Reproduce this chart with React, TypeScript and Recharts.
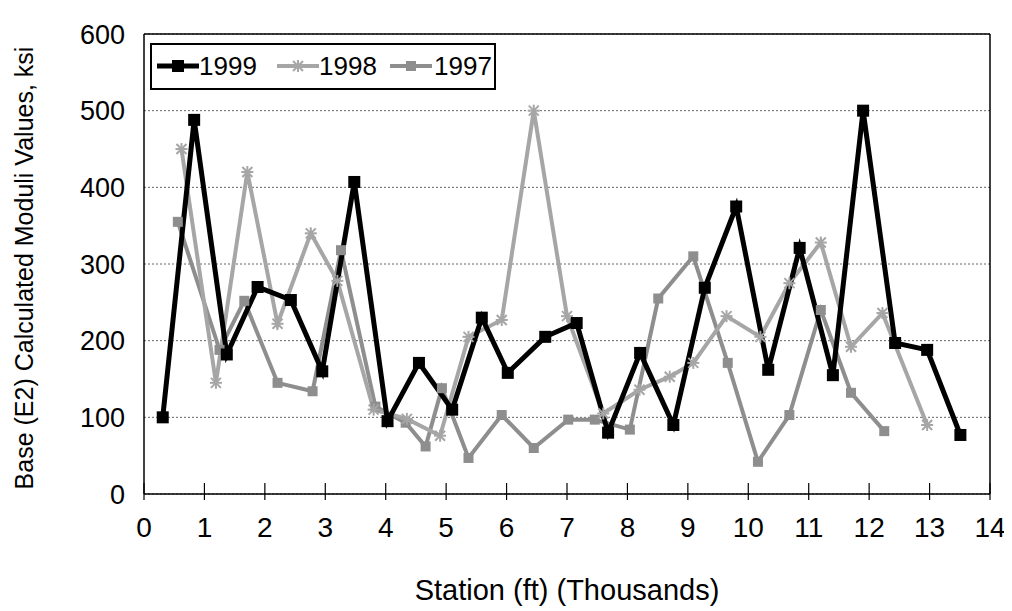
import React from 'react';
import { LineChart, Line, XAxis, YAxis, CartesianGrid, ReferenceLine } from 'recharts';

const xTicks = [0, 1, 2, 3, 4, 5, 6, 7, 8, 9, 10, 11, 12, 13, 14];
const yTicks = [0, 100, 200, 300, 400, 500, 600];

// station in thousands of ft, moduli in ksi
const station1999 = [0.31, 0.83, 1.37, 1.88, 2.43, 2.95, 3.48, 4.03, 4.55, 5.1, 5.59, 6.02, 6.64, 7.16, 7.68, 8.21, 8.76, 9.28, 9.8, 10.33, 10.85, 11.4, 11.9, 12.43, 12.96, 13.51];
const moduli1999 = [100, 488, 182, 270, 253, 160, 407, 95, 171, 110, 230, 158, 205, 223, 80, 184, 90, 269, 375, 162, 321, 155, 500, 197, 188, 77];

const station1998 = [0.62, 1.19, 1.71, 2.21, 2.76, 3.2, 3.8, 4.35, 4.9, 5.37, 5.92, 6.45, 7.0, 7.6, 8.2, 8.7, 9.09, 9.64, 10.2, 10.68, 11.2, 11.7, 12.22, 12.96];
const moduli1998 = [450, 145, 420, 222, 340, 278, 110, 98, 76, 205, 227, 500, 232, 105, 136, 153, 171, 232, 205, 275, 328, 192, 236, 90];

const station1997 = [0.56, 1.25, 1.66, 2.21, 2.79, 3.26, 3.83, 4.33, 4.66, 4.93, 5.37, 5.92, 6.45, 7.02, 7.46, 8.04, 8.51, 9.09, 9.66, 10.16, 10.68, 11.2, 11.7, 12.25];
const moduli1997 = [355, 188, 252, 145, 134, 318, 114, 93, 62, 138, 47, 103, 60, 97, 97, 84, 255, 310, 171, 42, 103, 240, 132, 82];

const toPoints = (xs: number[], ys: number[]) => xs.map((x, i) => ({ station: x, value: ys[i] }));

const data1999 = toPoints(station1999, moduli1999);
const data1998 = toPoints(station1998, moduli1998);
const data1997 = toPoints(station1997, moduli1997);

const FONT = '"Liberation Sans", Arial, sans-serif';

const BLACK = '#000000';
const GRAY98 = '#a6a6a6';
const GRAY97 = '#8e8e8e';

const SquareDot = ({ cx, cy, size, color }: any) => (
  <rect x={cx - size / 2} y={cy - size / 2} width={size} height={size} fill={color} />
);

const StarDot = ({ cx, cy, color }: any) => (
  <g stroke={color} strokeWidth={2}>
    <line x1={cx - 5} y1={cy - 5} x2={cx + 5} y2={cy + 5} />
    <line x1={cx - 5} y1={cy + 5} x2={cx + 5} y2={cy - 5} />
    <line x1={cx} y1={cy - 6} x2={cx} y2={cy + 6} />
    <line x1={cx - 6} y1={cy} x2={cx + 6} y2={cy} />
  </g>
);

const XTick = ({ x, y, payload }: any) => (
  <g>
    <line x1={x} x2={x} y1={y - 11} y2={y + 6} stroke={BLACK} strokeWidth={1.2} />
    <text x={x} y={y + 43} textAnchor="middle" fontSize={28} fontFamily={FONT} fill={BLACK}>
      {payload.value}
    </text>
  </g>
);

const XTitle = ({ viewBox }: any) => (
  <text
    x={viewBox.x + viewBox.width / 2}
    y={viewBox.y + viewBox.height + 46}
    textAnchor="middle"
    fontSize={29}
    fontFamily={FONT}
    fill={BLACK}
  >
    Station (ft) (Thousands)
  </text>
);

const YTitle = ({ viewBox }: any) => {
  const cx = 16;
  const cy = viewBox.y + viewBox.height / 2 + 4;
  return (
    <text
      x={cx}
      y={cy}
      transform={`rotate(-90, ${cx}, ${cy})`}
      textAnchor="middle"
      dominantBaseline="central"
      fontSize={25}
      fontFamily={FONT}
      fill={BLACK}
    >
      Base (E2) Calculated Moduli Values, ksi
    </text>
  );
};

const legendItems = [
  { label: '1999', color: BLACK, marker: 'square', width: 5, left: 5, textLeft: 47 },
  { label: '1998', color: GRAY98, marker: 'star', width: 4, left: 125, textLeft: 167 },
  { label: '1997', color: GRAY97, marker: 'square', width: 4, left: 238, textLeft: 282 },
];

const LegendBox = () => (
  <div
    style={{
      position: 'absolute',
      left: 142,
      top: 35,
      width: 342,
      height: 43,
      border: '2px solid #000',
      background: '#fff',
    }}
  >
    {legendItems.map((item) => (
      <React.Fragment key={item.label}>
        <svg width={42} height={20} style={{ position: 'absolute', left: item.left, top: 11 }}>
          <line x1={0} x2={42} y1={10} y2={10} stroke={item.color} strokeWidth={item.width} />
          {item.marker === 'square' ? (
            <SquareDot cx={21} cy={10} size={item.label === '1999' ? 12 : 10} color={item.color} />
          ) : (
            <StarDot cx={21} cy={10} color={item.color} />
          )}
        </svg>
        <span
          style={{
            position: 'absolute',
            left: item.textLeft,
            top: 4,
            fontFamily: FONT,
            fontSize: 26,
            lineHeight: '34px',
            color: '#000',
          }}
        >
          {item.label}
        </span>
      </React.Fragment>
    ))}
  </div>
);

export default function App() {
  return (
    <div style={{ position: 'relative', width: 1000, height: 600, background: '#fff' }}>
      <LineChart width={1000} height={600} margin={{ top: 26, right: 18, left: 56, bottom: 54 }}>
        <CartesianGrid horizontal vertical={false} stroke="#666" strokeDasharray="2 2" strokeWidth={1} />
        <XAxis
          type="number"
          dataKey="station"
          domain={[0, 14]}
          ticks={xTicks}
          interval={0}
          allowDataOverflow
          height={60}
          tickSize={0}
          tickMargin={0}
          tickLine={false}
          axisLine={{ stroke: BLACK, strokeWidth: 1.5 }}
          tick={<XTick />}
          label={<XTitle />}
        />
        <YAxis
          type="number"
          dataKey="value"
          domain={[0, 600]}
          ticks={yTicks}
          interval={0}
          width={80}
          tickSize={0}
          tickMargin={19}
          tickLine={false}
          axisLine={{ stroke: BLACK, strokeWidth: 1.5 }}
          tick={{ fill: BLACK, fontSize: 27, fontFamily: FONT }}
          label={<YTitle />}
        />
        <ReferenceLine y={600} stroke={BLACK} strokeWidth={1.5} />
        <ReferenceLine x={14} stroke={BLACK} strokeWidth={1.5} />
        <Line
          data={data1997}
          dataKey="value"
          stroke={GRAY97}
          strokeWidth={4}
          isAnimationActive={false}
          dot={(p: any) => <SquareDot key={`d97-${p.index}`} cx={p.cx} cy={p.cy} size={10} color={GRAY97} />}
          activeDot={false}
        />
        <Line
          data={data1998}
          dataKey="value"
          stroke={GRAY98}
          strokeWidth={4}
          isAnimationActive={false}
          dot={(p: any) => <StarDot key={`d98-${p.index}`} cx={p.cx} cy={p.cy} color={GRAY98} />}
          activeDot={false}
        />
        <Line
          data={data1999}
          dataKey="value"
          stroke={BLACK}
          strokeWidth={5}
          isAnimationActive={false}
          dot={(p: any) => <SquareDot key={`d99-${p.index}`} cx={p.cx} cy={p.cy} size={12} color={BLACK} />}
          activeDot={false}
        />
      </LineChart>
      <LegendBox />
    </div>
  );
}
